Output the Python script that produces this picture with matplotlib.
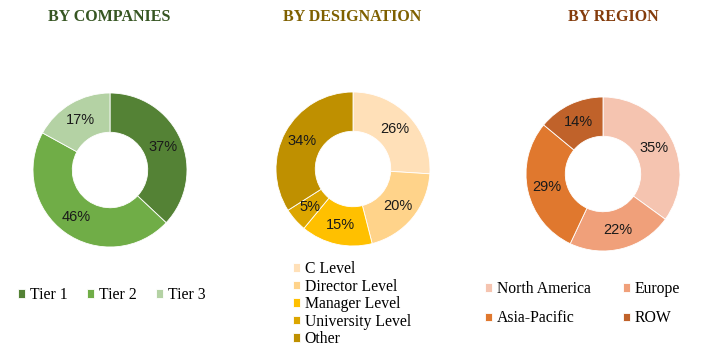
import matplotlib.pyplot as plt

W, H = 723, 352

company_labels = ["Tier 1", "Tier 2", "Tier 3"]
company_values = [37, 46, 17]
company_colors = ["#548235", "#70AD47", "#B4D2A4"]

designation_labels = ["C Level", "Director Level", "Manager Level", "University Level", "Other"]
designation_values = [26, 20, 15, 5, 34]
designation_colors = ["#FFE0B8", "#FFD38A", "#FFC000", "#DCA600", "#BF9000"]

region_labels = ["North America", "Europe", "Asia-Pacific", "ROW"]
region_values = [35, 22, 29, 14]
region_colors = ["#F5C4B0", "#F0A07A", "#E0782E", "#C0622A"]

TITLE_FONT = dict(family="Liberation Serif", fontweight="bold", fontsize=11.5)
LEGEND_FONT = {"family": "Liberation Serif", "size": 11.3}


def donut(fig, cx, cy, r, values, colors):
    # place a square axes (pixel coords, y measured from top)
    ax = fig.add_axes([(cx - r) / W, 1 - (cy + r) / H, 2 * r / W, 2 * r / H])
    wedges, _, autotexts = ax.pie(
        values, colors=colors, startangle=90, counterclock=False,
        autopct="%d%%", pctdistance=0.75, radius=1,
        wedgeprops=dict(width=0.51, edgecolor="white", linewidth=0.6),
        textprops=dict(family="Liberation Sans", fontsize=10.5, color="#1a1a1a"))
    ax.set_xlim(-1, 1)
    ax.set_ylim(-1, 1)
    ax.set_aspect("equal")
    ax.axis("off")
    return wedges


fig = plt.figure(figsize=(W / 100, H / 100), dpi=100)
fig.patch.set_facecolor("white")

w1 = donut(fig, 110, 170, 77, company_values, company_colors)
w2 = donut(fig, 353, 169, 77, designation_values, designation_colors)
w3 = donut(fig, 603, 174, 77, region_values, region_colors)

fig.text(109 / W, 1 - 17 / H, "BY COMPANIES", color="#375623", ha="center", va="center", **TITLE_FONT)
fig.text(352 / W, 1 - 17 / H, "BY DESIGNATION", color="#7F6000", ha="center", va="center", **TITLE_FONT)
fig.text(613 / W, 1 - 17 / H, "BY REGION", color="#843C0C", ha="center", va="center", **TITLE_FONT)

common = dict(frameon=False, handlelength=0.45, handleheight=0.45, handletextpad=0.3,
              prop=LEGEND_FONT, borderpad=0, borderaxespad=0)

fig.legend(w1, company_labels, loc="center left", bbox_to_anchor=(18 / W, 1 - 295 / H),
           ncol=3, columnspacing=1.25, **common)
fig.legend(w2, designation_labels, loc="upper left", bbox_to_anchor=(293 / W, 1 - 261 / H),
           ncol=1, labelspacing=0.1, **common)

# legend fills column-wise; reorder so it reads row-wise like the original
order = [0, 2, 1, 3]
fig.legend([w3[i] for i in order], [region_labels[i] for i in order], loc="upper left",
           bbox_to_anchor=(485 / W, 1 - 281 / H),
           ncol=2, labelspacing=0.85, columnspacing=2.05, **common)

fig.savefig("out.png", dpi=100)
